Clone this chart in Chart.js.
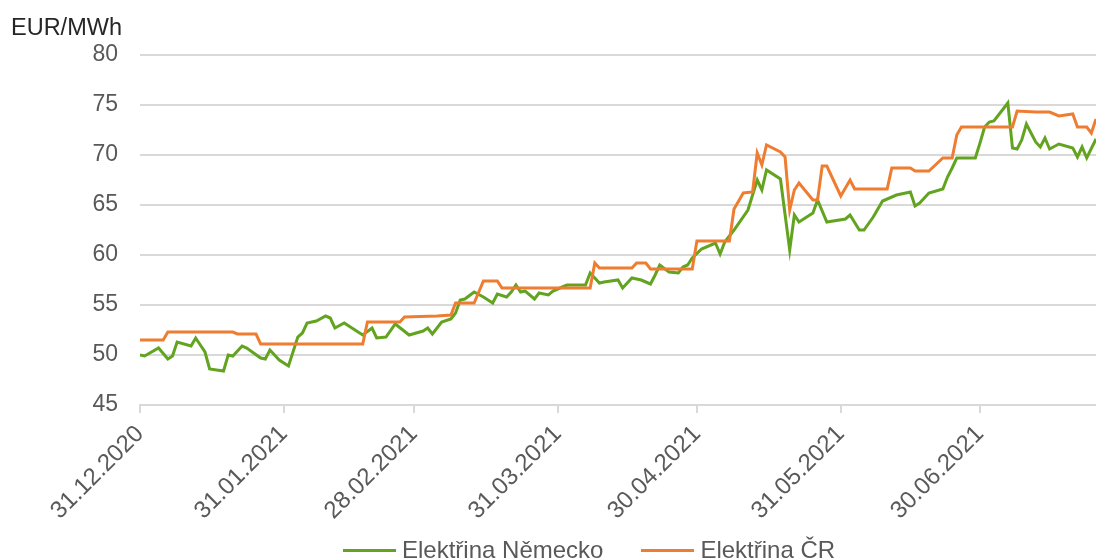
<!DOCTYPE html>
<html>
<head>
<meta charset="utf-8">
<script src="https://cdn.jsdelivr.net/npm/chart.js@4.4.0/dist/chart.umd.min.js"></script>
<style>
  body { margin: 0; background: #fff; }
  #wrap { position: relative; width: 1096px; height: 560px; font-family: 'Liberation Sans', Arial, sans-serif; }
  #unit { position: absolute; left: 11px; top: 16px; font-size: 23.5px; line-height: 1; color: #262626; }
  #legend { position: absolute; left: 343px; top: 537px; font-size: 24px; line-height: 26px; color: #595959; white-space: nowrap; display: flex; }
  .item { display: inline-flex; align-items: center; }
  .swatch { display: inline-block; width: 53px; height: 3px; margin-right: 6px; }
</style>
</head>
<body>
<div id="wrap">
  <canvas id="priceChart"></canvas>
  <div id="unit">EUR/MWh</div>
  <div id="legend"></div>
</div>
<script>
// base day of the x axis and last visible day
const startDate = '2020-12-31';
const endDate = '2021-07-25';

// month-end ticks on the x axis
const tickDates = ['2020-12-31', '2021-01-31', '2021-02-28', '2021-03-31', '2021-04-30', '2021-05-31', '2021-06-30'];

// Elektřina Německo (green)
const deDates = [
  '2020-12-31','2021-01-01','2021-01-04','2021-01-06','2021-01-07','2021-01-08','2021-01-11','2021-01-12','2021-01-13','2021-01-14',
  '2021-01-15','2021-01-18','2021-01-19','2021-01-20','2021-01-22','2021-01-23','2021-01-26','2021-01-27','2021-01-28','2021-01-30',
  '2021-02-01','2021-02-03','2021-02-04','2021-02-05','2021-02-07','2021-02-09','2021-02-10','2021-02-11','2021-02-13','2021-02-16',
  '2021-02-17','2021-02-19','2021-02-20','2021-02-22','2021-02-24','2021-02-27','2021-03-02','2021-03-03','2021-03-04','2021-03-06',
  '2021-03-08','2021-03-09','2021-03-10','2021-03-11','2021-03-13','2021-03-15','2021-03-17','2021-03-18','2021-03-20','2021-03-21',
  '2021-03-22','2021-03-23','2021-03-24','2021-03-26','2021-03-27','2021-03-29','2021-03-30','2021-04-01','2021-04-02','2021-04-06',
  '2021-04-07','2021-04-09','2021-04-10','2021-04-13','2021-04-14','2021-04-16','2021-04-18','2021-04-20','2021-04-21','2021-04-22',
  '2021-04-24','2021-04-26','2021-04-27','2021-04-28','2021-04-29','2021-05-01','2021-05-04','2021-05-05','2021-05-06','2021-05-08',
  '2021-05-11','2021-05-13','2021-05-14','2021-05-15','2021-05-18','2021-05-20','2021-05-21','2021-05-22','2021-05-25','2021-05-26',
  '2021-05-28','2021-06-01','2021-06-02','2021-06-04','2021-06-05','2021-06-07','2021-06-09','2021-06-12','2021-06-15','2021-06-16',
  '2021-06-17','2021-06-19','2021-06-22','2021-06-23','2021-06-24','2021-06-25','2021-06-29','2021-06-30','2021-07-01','2021-07-02',
  '2021-07-03','2021-07-06','2021-07-07','2021-07-08','2021-07-09','2021-07-10','2021-07-12','2021-07-13','2021-07-14','2021-07-15',
  '2021-07-17','2021-07-20','2021-07-21','2021-07-22','2021-07-23','2021-07-25'
];
const deValues = [
  50.0, 49.9, 50.7, 49.6, 49.9, 51.3, 50.9, 51.7, 51.0, 50.3,
  48.6, 48.4, 50.0, 49.9, 50.9, 50.7, 49.7, 49.6, 50.5, 49.5,
  48.9, 51.8, 52.2, 53.2, 53.4, 53.9, 53.7, 52.7, 53.2, 52.3,
  52.0, 52.7, 51.7, 51.8, 53.1, 52.0, 52.4, 52.7, 52.1, 53.3,
  53.6, 54.2, 55.5, 55.6, 56.3, 55.8, 55.2, 56.1, 55.8, 56.3,
  57.0, 56.3, 56.4, 55.6, 56.2, 56.0, 56.4, 56.8, 57.0, 57.0,
  58.2, 57.2, 57.3, 57.5, 56.7, 57.7, 57.5, 57.1, 58.0, 59.0,
  58.3, 58.2, 58.8, 59.0, 59.7, 60.6, 61.2, 60.1, 61.3, 62.5,
  64.5, 67.5, 66.5, 68.5, 67.6, 60.5, 64.0, 63.3, 64.2, 65.5,
  63.3, 63.6, 64.0, 62.5, 62.5, 63.8, 65.4, 66.0, 66.3, 64.9,
  65.2, 66.2, 66.6, 67.8, 68.7, 69.7, 69.7, 71.2, 72.8, 73.3,
  73.4, 75.2, 70.7, 70.6, 71.5, 73.1, 71.3, 70.8, 71.7, 70.6,
  71.1, 70.7, 69.8, 70.8, 69.7, 71.6
];

// Elektřina ČR (orange)
const czDates = [
  '2020-12-31','2021-01-05','2021-01-06','2021-01-20','2021-01-21','2021-01-25','2021-01-26','2021-02-17','2021-02-18','2021-02-25',
  '2021-02-26','2021-03-05','2021-03-08','2021-03-09','2021-03-13','2021-03-15','2021-03-18','2021-03-19','2021-04-07','2021-04-08',
  '2021-04-09','2021-04-16','2021-04-17','2021-04-19','2021-04-20','2021-04-29','2021-04-30','2021-05-07','2021-05-08','2021-05-10',
  '2021-05-12','2021-05-13','2021-05-14','2021-05-15','2021-05-18','2021-05-19','2021-05-20','2021-05-21','2021-05-22','2021-05-25',
  '2021-05-26','2021-05-27','2021-05-28','2021-05-31','2021-06-02','2021-06-03','2021-06-10','2021-06-11','2021-06-15','2021-06-16',
  '2021-06-19','2021-06-22','2021-06-24','2021-06-25','2021-06-26','2021-07-07','2021-07-08','2021-07-12','2021-07-15','2021-07-17',
  '2021-07-20','2021-07-21','2021-07-23','2021-07-24','2021-07-25'
];
const czValues = [
  51.5, 51.5, 52.3, 52.3, 52.1, 52.1, 51.1, 51.1, 53.3, 53.3,
  53.8, 53.9, 54.0, 55.2, 55.2, 57.4, 57.4, 56.7, 56.7, 59.2,
  58.7, 58.7, 59.2, 59.2, 58.6, 58.6, 61.4, 61.4, 64.6, 66.2,
  66.3, 70.2, 69.0, 71.0, 70.3, 69.8, 64.5, 66.5, 67.2, 65.5,
  65.5, 68.9, 68.9, 65.9, 67.5, 66.6, 66.6, 68.7, 68.7, 68.4,
  68.4, 69.7, 69.7, 72.0, 72.8, 72.8, 74.4, 74.3, 74.3, 73.9,
  74.1, 72.8, 72.8, 72.2, 73.6
];

const greenColor = '#62a420';
const orangeColor = '#ef7d31';
const gridColor = '#d9d9d9';
const labelColor = '#595959';

function dayOf(iso) {
  return Math.round((Date.parse(iso) - Date.parse(startDate)) / 86400000);
}

function fmtDate(iso) {
  const [y, m, d] = iso.split('-');
  return d + '.' + m + '.' + y;
}

const tickDays = tickDates.map(dayOf);
const tickLabels = {};
tickDates.forEach(d => { tickLabels[dayOf(d)] = fmtDate(d); });

const dePoints = deDates.map((d, i) => ({ x: dayOf(d), y: deValues[i] }));
const czPoints = czDates.map((d, i) => ({ x: dayOf(d), y: czValues[i] }));

const fontFamily = "'Liberation Sans', Arial, sans-serif";

const chart = new Chart(document.getElementById('priceChart'), {
  type: 'line',
  data: {
    datasets: [
      { label: 'Elektřina Německo', data: dePoints, borderColor: greenColor, borderWidth: 3, pointRadius: 0, tension: 0, order: 1 },
      { label: 'Elektřina ČR', data: czPoints, borderColor: orangeColor, borderWidth: 3, pointRadius: 0, tension: 0, order: 0 }
    ]
  },
  options: {
    responsive: true,
    maintainAspectRatio: false,
    animation: false,
    layout: { padding: { top: 55, left: 0, right: 0, bottom: 0 } },
    plugins: { legend: { display: false }, tooltip: { enabled: false } },
    scales: {
      x: {
        type: 'linear',
        min: 0,
        max: dayOf(endDate),
        afterBuildTicks: (scale) => { scale.ticks = tickDays.map(v => ({ value: v })); },
        afterFit: (scale) => { scale.height = 155; },
        grid: { drawOnChartArea: false, color: gridColor, lineWidth: 2, tickLength: 8 },
        border: { display: true, color: gridColor, width: 2 },
        ticks: {
          autoSkip: false,
          minRotation: 45,
          maxRotation: 45,
          padding: 7,
          color: labelColor,
          font: { family: fontFamily, size: 24 },
          callback: (v) => tickLabels[v] || ''
        }
      },
      y: {
        min: 45,
        max: 80,
        afterFit: (scale) => { scale.width = 140; },
        grid: { color: gridColor, lineWidth: 2, drawTicks: false },
        border: { display: false },
        ticks: { stepSize: 5, padding: 22, color: labelColor, font: { family: fontFamily, size: 23 } }
      }
    }
  }
});

// legend below the chart
const legendEl = document.getElementById('legend');
chart.data.datasets.forEach((ds, i) => {
  const item = document.createElement('span');
  item.className = 'item';
  if (i > 0) item.style.marginLeft = '38px';
  item.innerHTML = '<span class="swatch" style="background:' + ds.borderColor + '"></span>' + ds.label;
  legendEl.appendChild(item);
});
</script>
</body>
</html>
